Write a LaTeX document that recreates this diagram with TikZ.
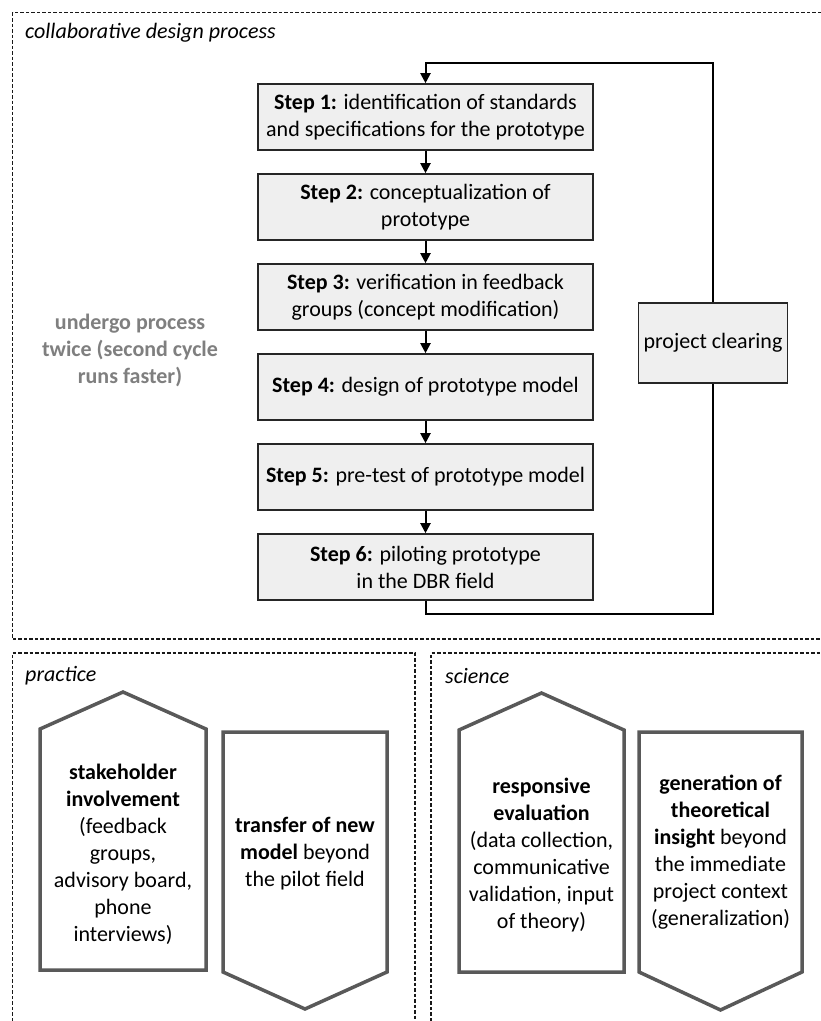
\documentclass[tikz,border=0pt]{standalone}
\usepackage{fontspec}
\setmainfont{Carlito}
\usetikzlibrary{arrows.meta}
\definecolor{boxfill}{HTML}{EFEFEF}
\definecolor{shapegray}{HTML}{595959}
\definecolor{notegray}{HTML}{7F7F7F}
\begin{document}
\begin{tikzpicture}[x=1pt,y=-1pt,
  font=\fontsize{22}{27}\selectfont,
  stepbox/.style={draw=black!85, line width=1.6pt, fill=boxfill, minimum width=335pt, minimum height=66pt, align=center, inner sep=0pt},
  clearbox/.style={draw=black!85, line width=1.6pt, fill=boxfill, minimum width=149pt, minimum height=80pt, align=center, inner sep=0pt},
  arr/.style={-{Triangle[length=10pt,width=10pt]}, line width=2pt},
  link/.style={line width=2pt},
  regionline/.style={draw=black!90, line width=1.1pt, dash pattern=on 3.5pt off 2pt},
  pent/.style={draw=shapegray, line width=3.5pt, line join=miter, fill=white},
  ptext/.style={align=center, inner sep=0pt},
  title/.style={anchor=west, inner sep=0pt, font=\fontsize{22}{27}\selectfont\itshape}
]
\useasboundingbox (0,0) rectangle (821,1021);
\fill[white] (0,0) rectangle (821,1021);

% regions
\draw[regionline] (821,12.5) -- (12.5,12.5) -- (12.5,639) -- (821,639);
\draw[regionline] (12.5,1021) -- (12.5,653) -- (415,653) -- (415,1021);
\draw[regionline] (431,1021) -- (431,653) -- (821,653);

\node[title] (tcdp) at (25,33) {collaborative design process};
\node[title] (tprac) at (25,676) {practice};
\node[title] (tsci) at (445,676) {science};

% steps
\node[stepbox] (s1) at (425.5,117) {\textbf{Step 1:} identification of standards\\and specifications for the prototype};
\node[stepbox] (s2) at (425.5,207) {\textbf{Step 2:} conceptualization of\\prototype};
\node[stepbox] (s3) at (425.5,297) {\textbf{Step 3:} verification in feedback\\groups (concept modification)};
\node[stepbox] (s4) at (425.5,387) {\textbf{Step 4:} design of prototype model};
\node[stepbox] (s5) at (425.5,477) {\textbf{Step 5:} pre-test of prototype model};
\node[stepbox] (s6) at (425.5,567) {\textbf{Step 6:} piloting prototype\\in the DBR field};

\node[clearbox] (pc) at (713,343) {project clearing};

\node[ptext, text=notegray, font=\fontsize{22}{27}\selectfont\bfseries] (note) at (130,350) {undergo process\\twice (second cycle\\runs faster)};

\draw[arr] (s1) -- (s2);
\draw[arr] (s2) -- (s3);
\draw[arr] (s3) -- (s4);
\draw[arr] (s4) -- (s5);
\draw[arr] (s5) -- (s6);

\coordinate (loopbot) at (425.5,614);
\coordinate (looptop) at (425.5,62.5);
\draw[link] (s6.south) -- (loopbot) -| (pc.south);
\draw[arr] (pc.north) |- (looptop) -- (s1.north);

% bottom shapes
\draw[pent] (40,729) -- (123,692) -- (206,729) -- (206,970) -- (40,970) -- cycle;
\draw[pent] (223,732) -- (387,732) -- (387,972) -- (305,1009) -- (223,972) -- cycle;
\draw[pent] (459,730) -- (541.5,693) -- (624,730) -- (624,972) -- (459,972) -- cycle;
\draw[pent] (639,732) -- (802,732) -- (802,972) -- (720.5,1010) -- (639,972) -- cycle;

\node[ptext] (stake) at (123,854) {\textbf{stakeholder}\\\textbf{involvement}\\(feedback\\groups,\\advisory board,\\phone\\interviews)};
\node[ptext] (transf) at (305,854) {\textbf{transfer of new}\\\textbf{model} beyond\\the pilot field};
\node[ptext] (resp) at (541.5,855) {\textbf{responsive}\\\textbf{evaluation}\\(data collection,\\communicative\\validation, input\\of theory)};
\node[ptext] (gen) at (720.5,852.5) {\textbf{generation of}\\\textbf{theoretical}\\\textbf{insight} beyond\\the immediate\\project context\\(generalization)};
\end{tikzpicture}
\end{document}
